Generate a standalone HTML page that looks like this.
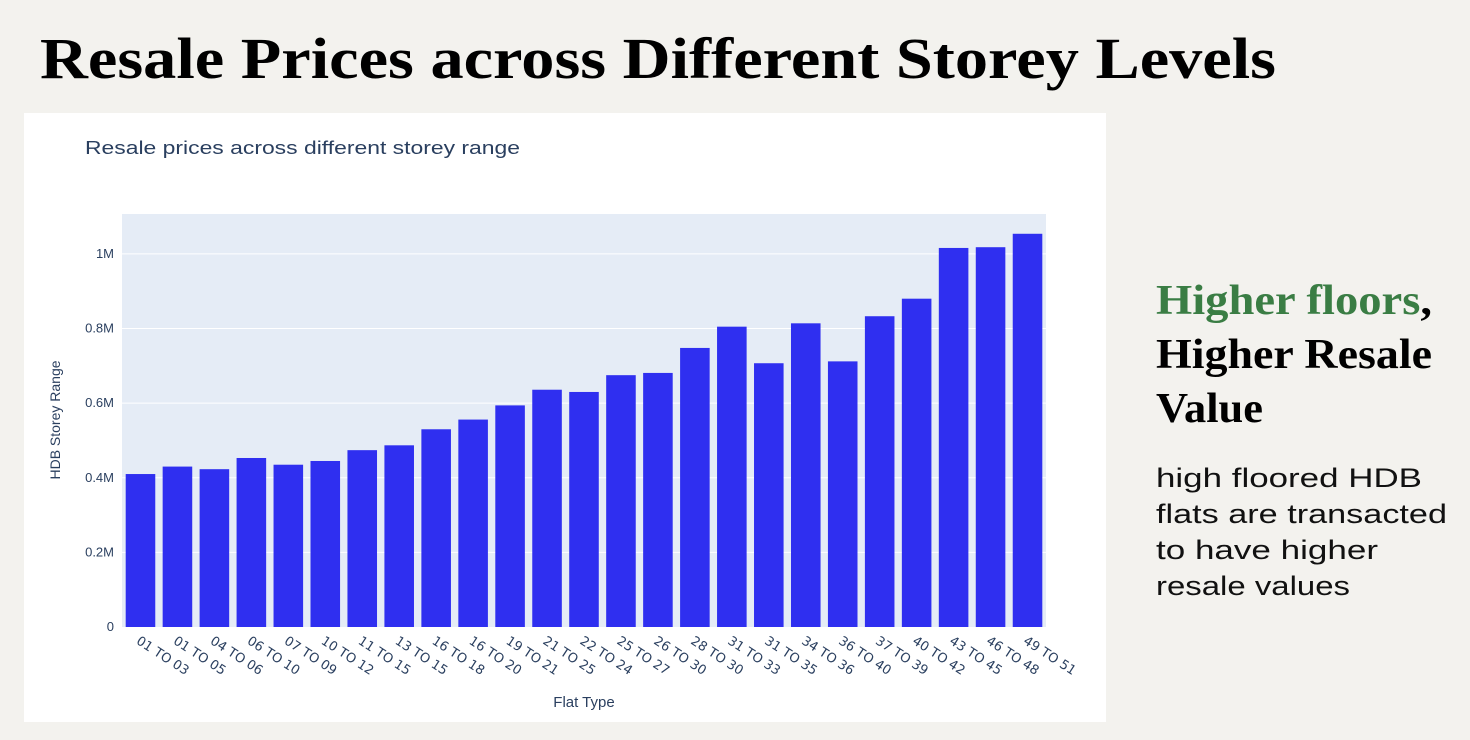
<!DOCTYPE html>
<html><head><meta charset="utf-8"><style>
body{margin:0;width:1470px;height:740px;background:#f3f2ee;overflow:hidden}
svg{display:block}
</style></head><body>
<svg width="1470" height="740" xmlns="http://www.w3.org/2000/svg">
<text x="40" y="78" font-family="Liberation Serif, serif" font-weight="bold" font-size="58" textLength="1236" lengthAdjust="spacingAndGlyphs" fill="#000">Resale Prices across Different Storey Levels</text>
<rect x="24" y="113" width="1082" height="609" fill="#fff"/>
<text x="85" y="154" font-family="Liberation Sans, sans-serif" font-size="18" fill="#2a3f5f" textLength="435" lengthAdjust="spacingAndGlyphs">Resale prices across different storey range</text>
<rect x="122" y="214" width="924" height="413" fill="#e5ecf6"/>
<g id="grid"></g>
<g id="bars"></g>
<g id="xlabels"></g>
<text transform="translate(60,420) rotate(-90)" text-anchor="middle" font-family="Liberation Sans, sans-serif" font-size="14" fill="#2a3f5f">HDB Storey Range</text>
<text x="584" y="707" text-anchor="middle" font-family="Liberation Sans, sans-serif" font-size="15" fill="#2a3f5f">Flat Type</text>
<text x="1156" y="314" font-family="Liberation Serif, serif" font-weight="bold" font-size="42" textLength="276" lengthAdjust="spacingAndGlyphs"><tspan fill="#3a7d44">Higher floors</tspan><tspan fill="#000">,</tspan></text>
<text x="1156" y="368" font-family="Liberation Serif, serif" font-weight="bold" font-size="42" fill="#000" textLength="276" lengthAdjust="spacingAndGlyphs">Higher Resale</text>
<text x="1156" y="422" font-family="Liberation Serif, serif" font-weight="bold" font-size="42" fill="#000" textLength="107" lengthAdjust="spacingAndGlyphs">Value</text>
<g font-family="Liberation Sans, sans-serif" font-size="27" fill="#111">
<text x="1156" y="487" textLength="266" lengthAdjust="spacingAndGlyphs">high floored HDB</text>
<text x="1156" y="523" textLength="291" lengthAdjust="spacingAndGlyphs">flats are transacted</text>
<text x="1156" y="559" textLength="222" lengthAdjust="spacingAndGlyphs">to have higher</text>
<text x="1156" y="595" textLength="194" lengthAdjust="spacingAndGlyphs">resale values</text>
</g>
</svg>
<script>
const categories=["01 TO 03","01 TO 05","04 TO 06","06 TO 10","07 TO 09","10 TO 12","11 TO 15","13 TO 15","16 TO 18","16 TO 20","19 TO 21","21 TO 25","22 TO 24","25 TO 27","26 TO 30","28 TO 30","31 TO 33","31 TO 35","34 TO 36","36 TO 40","37 TO 39","40 TO 42","43 TO 45","46 TO 48","49 TO 51"];
const values=[410000,430000,423000,453000,435000,445000,474000,487000,530000,556000,594000,636000,630000,675000,681000,748000,805000,707000,814000,712000,833000,880000,1016000,1018000,1054000];
const tickValues=[0,200000,400000,600000,800000,1000000];
const tickLabels=["0","0.2M","0.4M","0.6M","0.8M","1M"];
const NS="http://www.w3.org/2000/svg";
const x0=122,x1=1046,y0=627,y1=214,ymax=1107000;
const yScale=v=>y0-(v/ymax)*(y0-y1);
const band=(x1-x0)/categories.length;
const xScale=i=>x0+band*i;
const grid=document.getElementById('grid');
tickValues.forEach((t,i)=>{
  const y=yScale(t);
  if(t>0){const l=document.createElementNS(NS,'line');
  l.setAttribute('x1',x0);l.setAttribute('x2',x1);l.setAttribute('y1',y);l.setAttribute('y2',y);
  l.setAttribute('stroke','#fff');l.setAttribute('stroke-width','1');
  
  
  grid.appendChild(l);}
  const tx=document.createElementNS(NS,'text');
  tx.setAttribute('x',x0-8);tx.setAttribute('y',y+4);tx.setAttribute('text-anchor','end');
  tx.setAttribute('font-family','Liberation Sans, sans-serif');tx.setAttribute('font-size','13');tx.setAttribute('fill','#2a3f5f');
  tx.textContent=tickLabels[i];
  
  
  grid.appendChild(tx);
});
const bars=document.getElementById('bars'),xl=document.getElementById('xlabels');
values.forEach((v,i)=>{
  const r=document.createElementNS(NS,'rect');
  const bw=band*0.8;
  r.setAttribute('x',xScale(i)+(band-bw)/2);r.setAttribute('width',bw);
  r.setAttribute('y',yScale(v));r.setAttribute('height',y0-yScale(v));
  r.setAttribute('fill','#2f2ff0');
  
  
  bars.appendChild(r);
  const cx=xScale(i)+band/2;
  const t=document.createElementNS(NS,'text');
  t.setAttribute('transform','translate('+(cx-5)+',643) rotate(33)');
  t.setAttribute('font-family','DejaVu Sans, sans-serif');t.setAttribute('font-size','13');t.setAttribute('fill','#2a3f5f');
  t.textContent=categories[i];
  
  
  xl.appendChild(t);
});
</script>
</body></html>
